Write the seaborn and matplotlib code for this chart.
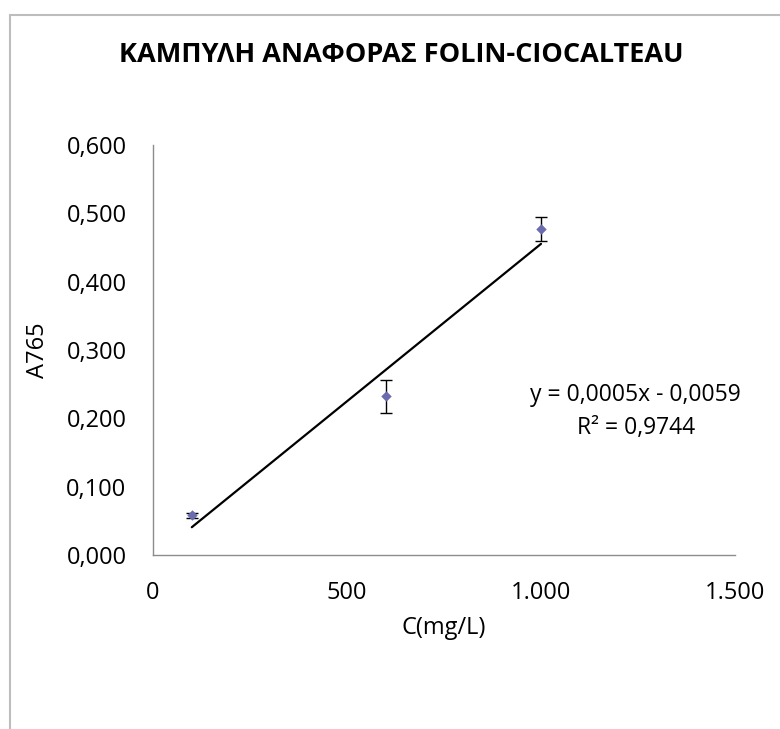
import numpy as np
import pandas as pd
import seaborn as sns
import matplotlib
matplotlib.use("Agg")
import matplotlib.pyplot as plt
from matplotlib.ticker import FuncFormatter
from matplotlib.lines import Line2D

# Calibration data (Folin-Ciocalteau)
conc = [100, 600, 1000]            # C (mg/L)
absorb = [0.058, 0.232, 0.477]     # A765
err = [0.004, 0.024, 0.017]        # error bar half-widths

title = "ΚΑΜΠΥΛΗ ΑΝΑΦΟΡΑΣ FOLIN-CIOCALTEAU"
eq_text = "y = 0,0005x - 0,0059\nR² = 0,9744"
x_ticks = [0, 500, 1000, 1500]
y_ticks = [0.0, 0.1, 0.2, 0.3, 0.4, 0.5, 0.6]

df = pd.DataFrame({"C": conc, "A": absorb, "err": err})

sns.set_style("white")
plt.rcParams["font.family"] = ["Open Sans", "DejaVu Sans"]
plt.rcParams["text.color"] = "black"
plt.rcParams["axes.labelcolor"] = "black"

fig = plt.figure(figsize=(7.8, 7.29), dpi=100)
ax = fig.add_axes([153 / 780, 1 - 555 / 729, (735 - 153) / 780, (555 - 145) / 729])

# chart border
border = "#BDBDBD"
fig.add_artist(Line2D([10 / 780, 10 / 780], [0, 1 - 15 / 729], transform=fig.transFigure, color=border, lw=1.5))
fig.add_artist(Line2D([10 / 780, 1], [1 - 15 / 729, 1 - 15 / 729], transform=fig.transFigure, color=border, lw=1.5))

# linear trendline
slope, intercept = np.polyfit(df["C"], df["A"], 1)
xl = np.array([min(conc), max(conc)])
ax.plot(xl, slope * xl + intercept, color="black", lw=1.6, zorder=2)

ax.errorbar(df["C"], df["A"], yerr=df["err"], fmt="none", ecolor="black",
            elinewidth=1.0, capsize=4.5, capthick=1.0, zorder=3)
sns.scatterplot(data=df, x="C", y="A", ax=ax, marker="D", s=24,
                color="#6A6CB0", edgecolor="#6A6CB0", zorder=4, legend=False)

ax.set_xlim(0, 1500)
ax.set_ylim(0, 0.6)
ax.set_xticks(x_ticks)
ax.set_yticks(y_ticks)
ax.xaxis.set_major_formatter(FuncFormatter(lambda v, p: f"{int(v):,}".replace(",", ".")))
ax.yaxis.set_major_formatter(FuncFormatter(lambda v, p: f"{v:.3f}".replace(".", ",")))

for s in ["top", "right"]:
    ax.spines[s].set_visible(False)
for s in ["left", "bottom"]:
    ax.spines[s].set_color("#8C8C8C")
    ax.spines[s].set_linewidth(1.0)
ax.tick_params(axis="both", which="major", direction="out", length=7, width=1.0,
               color="#8C8C8C", labelsize=17, labelcolor="black")
ax.tick_params(axis="y", pad=12)
ax.tick_params(axis="x", pad=12)

ax.set_xlabel("C(mg/L)", fontsize=17, labelpad=8)
ax.set_ylabel("A765", fontsize=17, labelpad=12)

fig.text(401 / 780, 1 - 55 / 729, title, ha="center", va="center",
         fontsize=19.5, fontweight="bold")
ax.text(1244, 0.210, eq_text, ha="center", va="center", fontsize=16.5,
        linespacing=1.45)

fig.savefig("out.png", dpi=100, facecolor="white")
